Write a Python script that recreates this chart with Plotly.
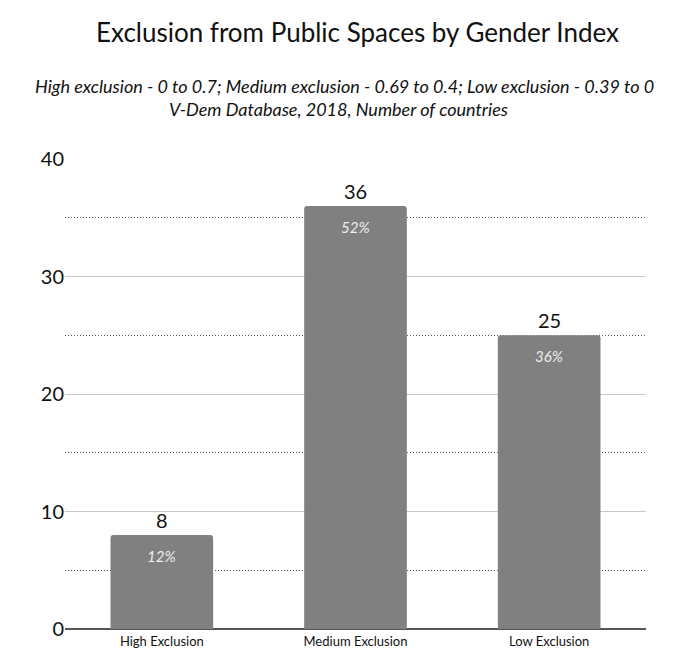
import plotly.graph_objects as go

categories = ["High Exclusion", "Medium Exclusion", "Low Exclusion"]
counts = [8, 36, 25]
total = sum(counts)
shares = [round(100 * c / total) for c in counts]

FONT = "Lato"
BAR_COLOR = "#808080"

fig = go.Figure(
    go.Bar(
        x=categories,
        y=counts,
        marker=dict(color=BAR_COLOR, line=dict(width=0), cornerradius=3),
        hoverinfo="skip",
    )
)

annotations = []
for cat, val, pct in zip(categories, counts, shares):
    # count above each bar
    annotations.append(dict(
        x=cat, y=val, xref="x", yref="y", text=str(val), showarrow=False,
        yanchor="bottom", yshift=1, font=dict(family=FONT, size=20, color="#111"),
    ))
    # share of countries inside the top of each bar
    annotations.append(dict(
        x=cat, y=val, xref="x", yref="y", text=f"<i>{pct}%</i>", showarrow=False,
        yanchor="top", yshift=-10, font=dict(family=FONT, size=15, color="#eeeeee"),
    ))

annotations += [
    dict(x=357, y=32, text="Exclusion from Public Spaces by Gender Index",
         showarrow=False, font=dict(family=FONT, size=26, color="#111")),
    dict(x=344, y=86, text="<i>High exclusion - 0 to 0.7; Medium exclusion - 0.69 to 0.4; Low exclusion - 0.39 to 0</i>",
         showarrow=False, font=dict(family=FONT, size=18, color="#111")),
    dict(x=338, y=109, text="<i>V-Dem Database, 2018, Number of countries</i>",
         showarrow=False, font=dict(family=FONT, size=18, color="#111")),
]

# header annotations are placed in pixels; convert them to paper coordinates
W, H = 679, 652
L, R, T, B = 65, 33, 159, 23
pw, ph = W - L - R, H - T - B
for a in annotations[-3:]:
    px, py = a["x"], a["y"]
    a["xref"] = "paper"
    a["yref"] = "paper"
    a["x"] = (px - L) / pw
    a["y"] = (H - B - py) / ph
    a["xanchor"] = "center"
    a["yanchor"] = "middle"

fig.update_layout(
    width=W, height=H,
    margin=dict(l=L, r=R, t=T, b=B, autoexpand=False),
    paper_bgcolor="white", plot_bgcolor="white",
    bargap=0.47,
    showlegend=False,
    annotations=annotations,
    xaxis=dict(
        showgrid=False, showline=False, ticks="", automargin=False,
        ticklabelstandoff=3,
        tickfont=dict(family=FONT, size=13, color="#111"),
    ),
    yaxis=dict(
        range=[0, 40], dtick=10, showline=False, ticks="", automargin=False,
        gridcolor="#c8c8c8", gridwidth=1,
        zeroline=True, zerolinecolor="#555555", zerolinewidth=1.5,
        tickfont=dict(family=FONT, size=20, color="#111"),
        minor=dict(dtick=5, showgrid=True, griddash="1px,2px", gridcolor="#555555", gridwidth=1),
    ),
)

fig.write_html("out.html")
